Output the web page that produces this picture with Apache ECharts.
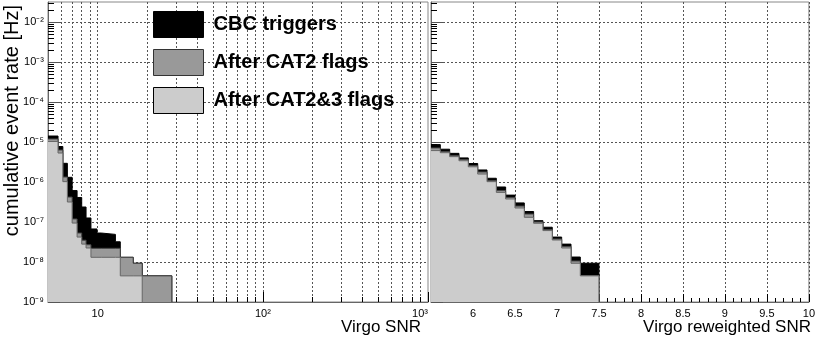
<!DOCTYPE html>
<html><head><meta charset="utf-8">
<script src="https://cdn.jsdelivr.net/npm/echarts@6/dist/echarts.min.js"></script>
<style>html,body{margin:0;padding:0;background:#fff}#c{width:818px;height:343px}</style>
</head><body><div id="c"></div>
<script>
// ---- Left panel: Virgo SNR (log x), bin lower edges + final upper edge
const snrEdges = [5, 5.75, 6.15, 6.55, 7.0, 7.5, 8.0, 8.5, 9.1, 9.9, 10.5, 12.8, 13.7, 16.4, 18.6, 28.1];
const snrCBC   = [1.41e-5, 7.7e-6, 2.93e-6, 1.31e-6, 6.1e-7, 4.1e-7, 2.37e-7, 1.26e-7, 6.7e-8, 5.3e-8, 4.9e-8, 3.2e-8, 1.31e-8, 9.3e-9, 4.5e-9];
const snrCAT2  = [1.19e-5, 6.3e-6, 1.33e-6, 4.2e-7, 1.19e-7, 5.3e-8, 3.5e-8, 2.7e-8, 2.2e-8, 2.2e-8, 2.2e-8, 2.2e-8, 1.31e-8, 9.3e-9, 4.5e-9];
const snrCAT23 = [1.03e-5, 5.3e-6, 1.02e-6, 3.16e-7, 9.4e-8, 4.2e-8, 2.8e-8, 2.24e-8, 1.31e-8, 1.31e-8, 1.31e-8, 1.31e-8, 4.5e-9, 4.5e-9];

// ---- Right panel: Virgo reweighted SNR (linear x)
const rwEdges = [5.5, 5.611, 5.722, 5.833, 5.944, 6.056, 6.167, 6.278, 6.389, 6.5, 6.611, 6.722, 6.833, 6.944, 7.056, 7.167, 7.278, 7.389, 7.5];
const rwCBC   = [8.6e-6, 6.6e-6, 5.2e-6, 4.0e-6, 2.9e-6, 2.0e-6, 1.24e-6, 7.5e-7, 4.7e-7, 3.0e-7, 1.83e-7, 1.08e-7, 7.4e-8, 4.2e-8, 2.8e-8, 1.33e-8, 9.3e-9, 9.3e-9];
const rwCAT2  = [7.1e-6, 5.8e-6, 4.6e-6, 3.65e-6, 2.58e-6, 1.78e-6, 1.09e-6, 6.1e-7, 4.1e-7, 2.5e-7, 1.58e-7, 1.0e-7, 6.5e-8, 3.76e-8, 2.44e-8, 1.06e-8, 4.5e-9, 4.5e-9];
const rwCAT23 = [6.1e-6, 5.4e-6, 4.3e-6, 3.4e-6, 2.4e-6, 1.58e-6, 1.02e-6, 5.5e-7, 3.76e-7, 2.24e-7, 1.31e-7, 9.3e-8, 6.1e-8, 3.55e-8, 2.24e-8, 9.3e-9, 4.5e-9, 4.5e-9];

// ---- names / axis ticks
const seriesNames = ['CBC triggers', 'After CAT2 flags', 'After CAT2&3 flags'];
const yMin = 1e-9, yMax = 0.0316;
const yDecades = [1e-9, 1e-8, 1e-7, 1e-6, 1e-5, 1e-4, 1e-3, 1e-2];
const minorMult = [2, 3, 4, 5, 6, 7, 8, 9];
const xLeftMin = 5, xLeftMax = 1000;
const xLeftMajor = [10, 100, 1000];
const xLeftMinor = [6, 7, 8, 9, 10, 20, 30, 40, 50, 60, 70, 80, 90, 100, 200, 300, 400, 500, 600, 700, 800, 900];
const xRightMin = 5.5, xRightMax = 10, xRightInterval = 0.5;

const yMinor = [];
yDecades.forEach(d => minorMult.forEach(m => { const v = m * d; if (v < yMax) yMinor.push(v); }));

const FONT = 'Liberation Sans';
const fills = ['#000000', '#999999', '#cccccc'];
const lines = ['#000000', '#444444', '#666666'];

const sup = {'-':'\u207B','0':'\u2070','1':'\u00B9','2':'\u00B2','3':'\u00B3','4':'\u2074','5':'\u2075','6':'\u2076','7':'\u2077','8':'\u2078','9':'\u2079'};
function pow10(v) {
  const e = Math.round(Math.log10(v));
  if (e === 1) return '10';
  return '10' + String(e).split('').map(c => sup[c]).join('');
}
function stepData(edges, vals) {
  const pts = vals.map((v, i) => [edges[i], v]);
  pts.push([edges[vals.length], vals[vals.length - 1]]);
  pts.push([edges[vals.length], yMin]);
  return pts;
}

const gridLine = { show: true, lineStyle: { color: '#555', type: [2, 2], width: 1 } };

function yAxes(gridIndex, withLabels) {
  return [{
    type: 'log', gridIndex, min: yMin, max: yMax, logBase: 10,
    axisLine: { show: true, lineStyle: { color: '#666' } },
    axisTick: { show: true, inside: true, length: 12, customValues: yDecades, lineStyle: { color: '#555' } },
    axisLabel: { show: withLabels, customValues: yDecades, formatter: pow10, fontFamily: FONT, fontSize: 11, color: '#000', margin: 4 },
    splitLine: gridLine
  }, {
    type: 'log', gridIndex, min: yMin, max: yMax, logBase: 10, position: 'left',
    axisLine: { show: false },
    axisTick: { show: true, inside: true, length: 6, customValues: yMinor, lineStyle: { color: '#000' } },
    axisLabel: { show: false },
    splitLine: { show: false }
  }];
}

function seriesFor(edges, sets, xi, yi) {
  return sets.map((vals, k) => ({
    type: 'line', name: seriesNames[k], xAxisIndex: xi, yAxisIndex: yi,
    data: stepData(edges, vals), step: 'end', symbol: 'none', silent: true,
    lineStyle: { color: lines[k], width: 1 },
    itemStyle: { color: fills[k] },
    areaStyle: { color: fills[k], opacity: 1, origin: yMin },
    z: 2 + k
  }));
}

const option = {
  animation: false,
  grid: [
    { left: 48, top: 2, width: 380, height: 300, show: true, borderColor: '#888', borderWidth: 1 },
    { left: 431, top: 2, width: 380, height: 300, show: true, borderColor: '#888', borderWidth: 1 }
  ],
  xAxis: [
    { type: 'log', gridIndex: 0, min: xLeftMin, max: xLeftMax, logBase: 10,
      axisLine: { show: true, lineStyle: { color: '#666' } },
      axisTick: { show: true, inside: true, length: 10, customValues: xLeftMajor, lineStyle: { color: '#000' } },
      axisLabel: { customValues: xLeftMajor, formatter: pow10, fontFamily: FONT, fontSize: 11, color: '#000', margin: 6, alignMaxLabel: 'right' },
      splitLine: { show: false } },
    { type: 'log', gridIndex: 0, min: xLeftMin, max: xLeftMax, logBase: 10, position: 'bottom',
      axisLine: { show: false },
      axisTick: { show: true, inside: true, length: 5, customValues: xLeftMinor, lineStyle: { color: '#000' } },
      axisLabel: { show: false },
      splitLine: gridLine },
    { type: 'value', gridIndex: 1, min: xRightMin, max: xRightMax, interval: xRightInterval,
      axisLine: { show: true, lineStyle: { color: '#666' } },
      axisTick: { show: true, inside: true, length: 8, lineStyle: { color: '#000' } },
      minorTick: { show: true, splitNumber: 5, length: 4, lineStyle: { color: '#000' } },
      axisLabel: { showMinLabel: false, fontFamily: FONT, fontSize: 11, color: '#000', margin: 6 },
      splitLine: gridLine }
  ],
  yAxis: [].concat(yAxes(0, true), yAxes(1, false)),
  legend: {
    orient: 'vertical', left: 153, top: 11, padding: 0, itemWidth: 50, itemHeight: 26, itemGap: 11, icon: 'rect',
    textStyle: { fontFamily: FONT, fontWeight: 'bold', fontSize: 20, color: '#000', padding: [0, 0, 0, 5] },
    selectedMode: false,
    data: seriesNames.map((n, k) => ({ name: n, itemStyle: { color: fills[k], borderColor: k === 1 ? '#333' : '#000', borderWidth: 1 } }))
  },
  graphic: [
    { type: 'text', x: 12, y: 5, rotation: Math.PI / 2,
      style: { text: 'cumulative event rate [Hz]', fontFamily: FONT, fontSize: 20, fill: '#000', align: 'right', textAlign: 'right', verticalAlign: 'middle', textVerticalAlign: 'middle' } },
    { type: 'text', x: 421, y: 327,
      style: { text: 'Virgo SNR', fontFamily: FONT, fontSize: 17, fill: '#000', align: 'right', textAlign: 'right', verticalAlign: 'middle', textVerticalAlign: 'middle' } },
    { type: 'text', x: 811, y: 327,
      style: { text: 'Virgo reweighted SNR', fontFamily: FONT, fontSize: 17, fill: '#000', align: 'right', textAlign: 'right', verticalAlign: 'middle', textVerticalAlign: 'middle' } }
  ],
  series: [].concat(
    seriesFor(snrEdges, [snrCBC, snrCAT2, snrCAT23], 0, 0),
    seriesFor(rwEdges, [rwCBC, rwCAT2, rwCAT23], 2, 2)
  )
};

const chart = echarts.init(document.getElementById('c'), null, { renderer: 'canvas' });
chart.setOption(option);
</script>
</body></html>
